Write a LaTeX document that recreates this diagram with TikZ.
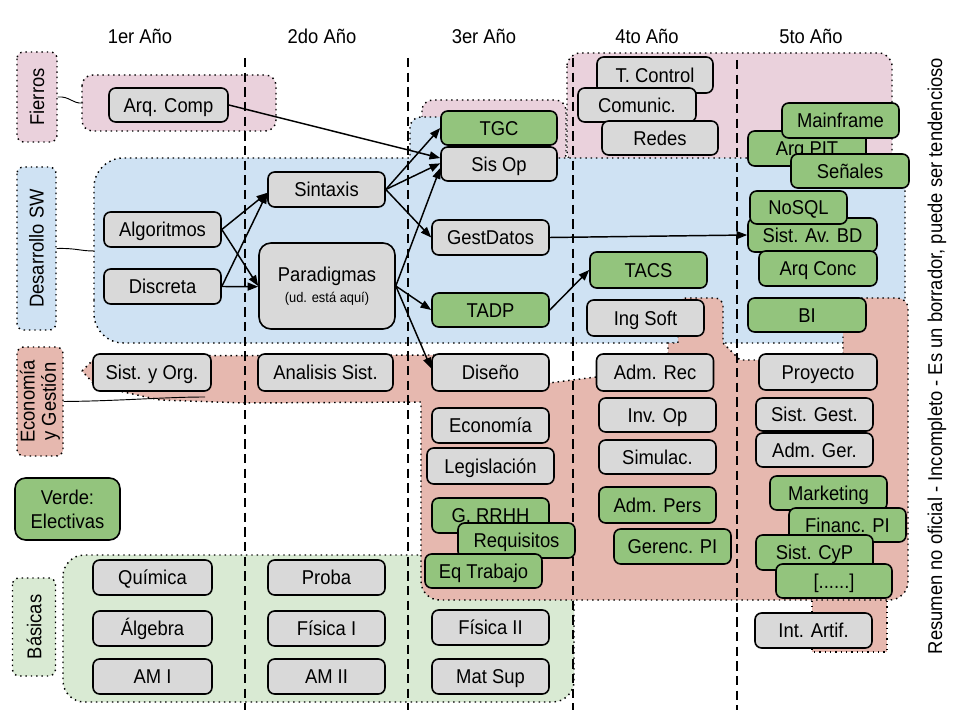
\documentclass[tikz,border=0pt]{standalone}
\usepackage{fontspec}
\setmainfont{Liberation Sans}[FakeStretch=0.92]
\usetikzlibrary{arrows.meta}
\definecolor{boxgray}{HTML}{D9D9D9}
\definecolor{elect}{HTML}{93C47D}
\definecolor{pinkr}{HTML}{EAD1DC}
\definecolor{bluer}{HTML}{CFE2F3}
\definecolor{salr}{HTML}{E6B8AF}
\definecolor{greenr}{HTML}{D9EAD3}
\newcommand\mybox[6]{\node[#1,minimum width=#4*0.75pt,minimum height=#5*0.75pt] (#2) at (#3) {#6};}
\tikzset{
  txt/.style={font=\fontsize{15}{18}\selectfont},
  boxbase/.style={txt,draw=black,line width=1.2pt,rounded corners=5pt,fill=boxgray,inner sep=0pt,text=black},
  box/.style={boxbase,text height=10.7pt,text depth=0pt},
  gbox/.style={box,fill=elect},
  region/.style={draw=black,line width=1.1pt,dash pattern=on 1.1pt off 2.9pt},
  lab/.style={txt,region,rounded corners=5pt,inner sep=0pt,rotate=90,align=center},
  yearsep/.style={draw=black,line width=1.1pt,dash pattern=on 7pt off 4pt},
  conn/.style={draw=black,line width=0.7pt},
  arr/.style={draw=black,line width=1.1pt,-{Triangle[length=8pt,width=6pt]}}
}
\begin{document}
\begin{tikzpicture}[x=0.75pt,y=-0.75pt]
\useasboundingbox (0,0) rectangle (960,720);
% ---------- regions ----------
\draw[region,fill=pinkr,rounded corners=8pt] (82,75) rectangle (276,131);
\draw[region,fill=pinkr,rounded corners=10pt] (567,53) rectangle (892,165);
\draw[region,fill=pinkr,rounded corners=8pt] (422,100) rectangle (566,165);
\draw[region,fill=greenr,rounded corners=16pt] (63,555) rectangle (574,702);
\draw[region,fill=bluer] (94,300) [rounded corners=22pt] -- (94,158) [sharp corners] -- (410,158)
   [rounded corners=8pt] -- (410,117) -- (550,117) [sharp corners] -- (550,158) -- (905,158)
   [rounded corners=10pt] -- (905,343) [rounded corners=22pt] -- (94,343) [sharp corners] -- cycle;
\draw[region,fill=salr] (812,590) rectangle (887,652);
\draw[region,fill=salr] (82,371) -- (97,356) -- (432,355) -- (540,356) -- (549,383) -- (596,377) -- (600,356)
   -- (668,354) -- (668,343) -- (678,343) [rounded corners=6pt] -- (678,298) -- (723,298) [sharp corners]
   -- (723,343) -- (740,360) -- (765,360) -- (843,355) [rounded corners=8pt] -- (843,298) -- (908,298)
   [rounded corners=14pt] -- (908,600) -- (421,600) [sharp corners] -- (421,402) -- (245,403) -- (160,400)
   -- (96,386) -- cycle;
% ---------- year separators ----------
\coordinate (s1t) at (245,58); \coordinate (s1b) at (245,710);
\coordinate (s2t) at (408,58); \coordinate (s2b) at (408,710);
\coordinate (s3t) at (573,58); \coordinate (s3b) at (573,710);
\coordinate (s4t) at (737,60); \coordinate (s4b) at (737,710);
\draw[yearsep] (s1t) -- (s1b);
\draw[yearsep] (s2t) -- (s2b);
\draw[yearsep] (s3t) -- (s3b);
\draw[yearsep] (s4t) -- (s4b);
% ---------- year titles ----------
\node[txt] (y1) at (140,36) {1er Año};
\node[txt] (y2) at (322,36) {2do Año};
\node[txt] (y3) at (484,36) {3er Año};
\node[txt] (y4) at (647,36) {4to Año};
\node[txt] (y5) at (811,36) {5to Año};
% ---------- side labels ----------
\node[lab,fill=pinkr,minimum width=90*0.75pt,minimum height=40*0.75pt] (lf) at (37,97) {Fierros};
\node[lab,fill=bluer,minimum width=163*0.75pt,minimum height=39*0.75pt] (ldsw) at (36.5,248.5) {Desarrollo SW};
\node[lab,fill=salr,minimum width=109*0.75pt,minimum height=46*0.75pt] (leg2) at (40,401.5) {Economía\\[-2pt]y Gestión};
\node[txt,draw=black,line width=1.2pt,fill=elect,rounded corners=8pt,align=center,inner sep=0pt,
      minimum width=105*0.75pt,minimum height=62*0.75pt] (lver) at (67.5,509) {Verde:\\Electivas};
\node[lab,fill=greenr,minimum width=98*0.75pt,minimum height=43*0.75pt] (lbas) at (34,627) {Básicas};
\node[txt,rotate=90] (note) at (937,356) {Resumen no oficial - Incompleto - Es un borrador, puede ser tendencioso};
% connectors from labels to regions
\coordinate (frr) at (83,103);
\coordinate (dsr) at (94,251);
\coordinate (ecr) at (205,397);
\draw[conn] (lf.south) .. controls (70,96) and (72,104) .. (frr);
\draw[conn] (ldsw.south) .. controls (76,248) and (80,251) .. (dsr);
\draw[conn] (leg2.south) .. controls (120,401) and (165,397) .. (ecr);
% ---------- column 1 ----------
\mybox{box}{arq}{168.5,105}{119}{34}{Arq. Comp}
\mybox{box}{alg}{162.5,229.5}{117}{35}{Algoritmos}
\mybox{box}{dis}{162.5,286.5}{117}{35}{Discreta}
\mybox{box}{syo}{152,372.5}{118}{37}{Sist. y Org.}
\mybox{box}{qui}{152.5,577.5}{119}{35}{Química}
\mybox{box}{alge}{152.5,628.5}{119}{35}{Álgebra}
\mybox{box}{am1}{152.5,676.5}{119}{35}{AM I}
% ---------- column 2 ----------
\mybox{box}{sin}{326.5,189.5}{117}{35}{Sintaxis}
\node[boxbase,align=center,rounded corners=9pt,minimum width=136*0.75pt,minimum height=86*0.75pt] (par) at (327,286)
   {Paradigmas\\[-2pt]{\fontsize{10.5}{12}\selectfont (ud. está aquí)}};
\mybox{box}{ana}{325.5,372.5}{135}{37}{Analisis Sist.}
\mybox{box}{pro}{326.5,577.5}{117}{35}{Proba}
\mybox{box}{fi1}{326.5,628.5}{117}{35}{Física I}
\mybox{box}{am2}{326.5,676.5}{117}{35}{AM II}
% ---------- column 3 ----------
\mybox{gbox}{tgc}{499,128}{116}{34}{TGC}
\mybox{box}{sop}{499,164}{116}{34}{Sis Op}
\mybox{box}{gd}{490.5,237.5}{117}{35}{GestDatos}
\mybox{gbox}{tadp}{490.5,310}{117}{34}{TADP}
\mybox{box}{dsn}{490.5,372.5}{117}{37}{Diseño}
\mybox{box}{eco}{490.5,425.5}{117}{35}{Economía}
\mybox{box}{leg}{490.5,466}{127}{36}{Legislación}
\mybox{gbox}{rrhh}{490.5,515.5}{117}{35}{G. RRHH}
\mybox{gbox}{req}{516.5,540.5}{117}{35}{Requisitos}
\mybox{gbox}{eqt}{483.5,571}{117}{34}{Eq Trabajo}
\mybox{box}{fi2}{490.5,627.5}{117}{35}{Física II}
\mybox{box}{ms}{490.5,676.5}{117}{35}{Mat Sup}
% ---------- column 4 ----------
\mybox{box}{tc}{655,75}{116}{36}{T. Control}
\mybox{box}{com}{637,105}{118}{34}{Comunic.}
\mybox{box}{red}{660,138}{116}{34}{Redes}
\mybox{gbox}{tacs}{648.5,270}{117}{36}{TACS}
\mybox{box}{ing}{645.5,318}{117}{36}{Ing Soft}
\mybox{box}{adr}{655,372.5}{117}{37}{Adm. Rec}
\mybox{box}{inv}{657.5,415}{117}{34}{Inv. Op}
\mybox{box}{sim}{657.5,457}{117}{34}{Simulac.}
\mybox{gbox}{adp}{657.5,505}{117}{36}{Adm. Pers}
\mybox{gbox}{ger}{672.5,546.5}{117}{35}{Gerenc. PI}
% ---------- column 5 ----------
\mybox{gbox}{apit}{807,148.5}{118}{35}{Arq PIT}
\mybox{gbox}{mf}{840.5,120.5}{117}{35}{Mainframe}
\mybox{gbox}{sen}{850,171}{118}{34}{Señales}
\mybox{gbox}{sabd}{812.5,235}{129}{34}{Sist. Av. BD}
\mybox{gbox}{nosql}{798.5,207.5}{97}{33}{NoSQL}
\mybox{gbox}{aconc}{818,268.5}{118}{35}{Arq Conc}
\mybox{gbox}{bi}{807,315}{118}{34}{BI}
\mybox{box}{proy}{818,372}{118}{36}{Proyecto}
\mybox{box}{sg}{814.5,414.5}{117}{33}{Sist. Gest.}
\mybox{box}{ag}{814.5,450}{117}{34}{Adm. Ger.}
\mybox{gbox}{mkt}{828.5,493}{117}{34}{Marketing}
\mybox{gbox}{fin}{847.5,525}{117}{34}{Financ. PI}
\mybox{gbox}{scyp}{814.5,552.5}{117}{35}{Sist. CyP}
\mybox{gbox}{dots}{834,581}{116}{34}{[......]}
\mybox{box}{ia}{813.5,630.5}{117}{35}{Int. Artif.}
% ---------- arrows ----------
\draw[arr] (arq.east) -- ([yshift=4.5pt]sop.west);
\draw[arr] (alg.east) -- ([yshift=-2.5pt]sin.west);
\draw[arr] (dis.east) -- ([yshift=-2.5pt]sin.west);
\draw[arr] (alg.east) -- (par.west);
\draw[arr] (dis.east) -- ([yshift=-0.5pt]par.west);
\draw[arr] (sin.east) -- (tgc.west);
\draw[arr] (sin.east) -- ([yshift=0.5pt]sop.west);
\draw[arr] (sin.east) -- (gd.west);
\draw[arr] (par.east) -- ([yshift=-3pt]sop.west);
\draw[arr] (par.east) -- (tadp.west);
\draw[arr] (par.east) -- ([yshift=3pt]dsn.west);
\draw[arr] (tadp.east) -- (tacs.west);
\draw[arr] (gd.east) -- (sabd.west);
\end{tikzpicture}
\end{document}
